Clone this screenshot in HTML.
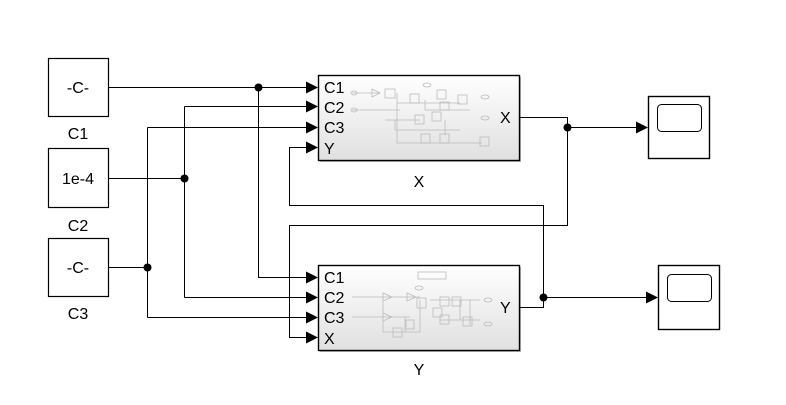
<!DOCTYPE html>
<html><head><style>body{margin:0;background:#fff}svg{display:block}text{font-family:"Liberation Sans",sans-serif}</style></head><body>
<svg width="786" height="405" viewBox="0 0 786 405" xmlns="http://www.w3.org/2000/svg">
<defs>
<linearGradient id="g" x1="0" y1="0" x2="0" y2="1"><stop offset="0" stop-color="#fff"/><stop offset="1" stop-color="#e0e0e0"/></linearGradient>
<marker id="a" markerWidth="12" markerHeight="12" refX="11" refY="6" orient="auto" markerUnits="userSpaceOnUse"><path d="M0,0 L12,6 L0,12Z" fill="#000"/></marker>
</defs>
<g fill="none" stroke="#000" stroke-width="1">
<rect x="48.5" y="58.5" width="60" height="58" fill="#fff" stroke-width="1.2"/>
<rect x="48.5" y="148.5" width="60" height="59" fill="#fff" stroke-width="1.2"/>
<rect x="48.5" y="238.5" width="60" height="58" fill="#fff" stroke-width="1.2"/>
<rect x="320" y="77" width="201" height="85" fill="#bbb" stroke="none"/>
<rect x="318.5" y="75.5" width="201" height="85" fill="url(#g)" stroke-width="1.4"/>
<rect x="320" y="267" width="201" height="85" fill="#bbb" stroke="none"/>
<rect x="318.5" y="265.5" width="201" height="85" fill="url(#g)" stroke-width="1.4"/>
<rect x="648.5" y="96.5" width="61" height="62" fill="#fff" stroke-width="1.4"/>
<rect x="657.5" y="104.5" width="44" height="27" rx="4"/>
<rect x="658.5" y="265.5" width="61" height="64" fill="#fff" stroke-width="1.4"/>
<rect x="667.5" y="274.5" width="44" height="27" rx="4"/>
<path d="M108,87.5H317" marker-end="url(#a)"/>
<path d="M258.5,87.5V277.5H317" marker-end="url(#a)"/>
<path d="M108,178.5H184.5"/>
<path d="M184.5,106.5V297.5"/>
<path d="M184.5,106.5H317" marker-end="url(#a)"/>
<path d="M184.5,297.5H317" marker-end="url(#a)"/>
<path d="M108,267.5H147.5"/>
<path d="M147.5,127.5V317.5"/>
<path d="M147.5,127.5H317" marker-end="url(#a)"/>
<path d="M147.5,317.5H317" marker-end="url(#a)"/>
<path d="M519,117.5H567.5V127.5H647" marker-end="url(#a)"/>
<path d="M567.5,127.5V225.5H289.5V337.5H317" marker-end="url(#a)"/>
<path d="M519,307.5H543.5V297.5H657" marker-end="url(#a)"/>
<path d="M543.5,297.5V205.5H289.5V147.5H317" marker-end="url(#a)"/>
</g>
<g fill="#000">
<circle cx="258.5" cy="87.5" r="4"/><circle cx="184.5" cy="178.5" r="4"/><circle cx="147.5" cy="267.5" r="4"/>
<circle cx="567.5" cy="127.5" r="4"/><circle cx="543.5" cy="297.5" r="4"/>
</g>
<g fill="none" stroke="#bbb" stroke-width="0.8">
<path d="M352,93H380M372,89L380,93L372,97ZM352,110H400M397,93V143H482M397,103H460M385,120H420M395,120V130H460M425,100V110H470M445,135V120"/>
<rect x="385" y="89" width="10" height="9"/><rect x="410" y="94" width="9" height="9"/><rect x="415" y="115" width="9" height="9"/><rect x="432" y="112" width="9" height="9"/><rect x="437" y="90" width="9" height="9"/><rect x="458" y="95" width="9" height="9"/><rect x="440" y="102" width="9" height="8"/><rect x="421" y="134" width="9" height="9"/><rect x="440" y="134" width="9" height="9"/><rect x="480" y="137" width="9" height="9"/>
<ellipse cx="427" cy="85" rx="4" ry="2"/><ellipse cx="485" cy="97" rx="4" ry="2"/><ellipse cx="485" cy="118" rx="4" ry="2"/><ellipse cx="354" cy="93" rx="3" ry="2"/><ellipse cx="354" cy="110" rx="3" ry="2"/>
<path d="M352,297H420M352,317H410M383,293L392,297L383,301ZM407,293L416,297L407,301ZM383,313L392,317L383,321ZM383,297V332H420M405,317V332M420,300V332M430,300H480M440,320H480M460,300V320M470,300V325"/>
<rect x="418" y="272" width="28" height="7"/><rect x="417" y="298" width="9" height="10"/><rect x="440" y="297" width="9" height="9"/><rect x="452" y="297" width="9" height="9"/><rect x="433" y="308" width="9" height="9"/><rect x="440" y="315" width="9" height="9"/><rect x="463" y="317" width="9" height="9"/><rect x="406" y="320" width="8" height="9"/><rect x="393" y="328" width="9" height="9"/>
<ellipse cx="419" cy="288" rx="4" ry="2"/><ellipse cx="488" cy="300" rx="4" ry="2"/><ellipse cx="488" cy="324" rx="4" ry="2"/>
</g>
<g font-size="16" fill="#000">
<text x="78" y="93" text-anchor="middle">-C-</text>
<text x="78" y="184" text-anchor="middle">1e-4</text>
<text x="78" y="273" text-anchor="middle">-C-</text>
<text x="78" y="139" text-anchor="middle">C1</text>
<text x="78" y="231" text-anchor="middle">C2</text>
<text x="78" y="319" text-anchor="middle">C3</text>
<text x="324" y="93">C1</text><text x="324" y="113">C2</text><text x="324" y="133">C3</text><text x="324" y="154">Y</text>
<text x="500" y="123">X</text>
<text x="419" y="187" text-anchor="middle">X</text>
<text x="324" y="283">C1</text><text x="324" y="303">C2</text><text x="324" y="323">C3</text><text x="324" y="344">X</text>
<text x="500" y="313">Y</text>
<text x="419" y="375" text-anchor="middle">Y</text>
</g>
</svg>
</body></html>
